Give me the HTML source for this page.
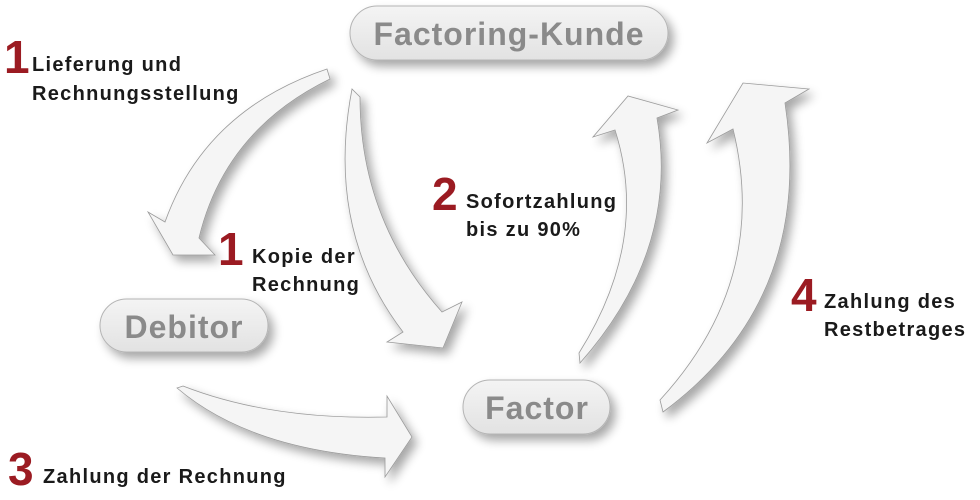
<!DOCTYPE html>
<html><head><meta charset="utf-8"><style>
html,body{margin:0;padding:0;background:#fff;width:980px;height:500px;overflow:hidden}
</style></head><body>
<svg width="980" height="500" viewBox="0 0 980 500" xmlns="http://www.w3.org/2000/svg" font-family="Liberation Sans, Arial, sans-serif" font-weight="bold">
<defs>
<filter id="sh" x="-20%" y="-20%" width="150%" height="150%">
<feGaussianBlur in="SourceAlpha" stdDeviation="5"/>
<feOffset dx="5" dy="6" result="b"/>
<feComponentTransfer><feFuncA type="linear" slope="0.35"/></feComponentTransfer>
<feMerge><feMergeNode/><feMergeNode in="SourceGraphic"/></feMerge>
</filter>
<linearGradient id="pg" x1="0" y1="0" x2="0" y2="1">
<stop offset="0" stop-color="#f4f4f4"/><stop offset="1" stop-color="#e2e2e2"/>
</linearGradient>
</defs>
<g fill="#f5f5f5" stroke="#9a9a9a" stroke-width="0.8" filter="url(#sh)">
<path d="M327,69 Q205,110 165,222 L148,212 L173,255 L215,255 L199,238 Q225,130 330,79 Z"/>
<path d="M352,89 Q325,230 403,332 L387,342 L443,348 L462,302 L442,312 Q360,220 360,97 Z"/>
<path d="M579,353 Q650,240 615,130 L593,137 L628,96 L678,110 L657,118 Q680,250 580,363 Z"/>
<path d="M660,400 Q770,280 733,129 L707,143 L743,83 L809,89 L785,103 Q815,300 663,412 Z"/>
<path d="M177,388 Q250,450 385,458 L385,477 L412,437 L387,396 L387,417 Q270,420 183,386 Z"/>
</g>
<g filter="url(#sh)" fill="url(#pg)" stroke="#b5b5b5" stroke-width="1">
<rect x="350" y="6" width="318" height="54" rx="27"/>
<rect x="100" y="299" width="168" height="53" rx="26.5"/>
<rect x="463" y="380" width="147" height="54" rx="27"/>
</g>
<g fill="#8a8a8a" font-size="32" text-anchor="middle" letter-spacing="1">
<text x="509" y="45">Factoring-Kunde</text>
<text x="184" y="338">Debitor</text>
<text x="537" y="419">Factor</text>
</g>
<g fill="#9b1b22" font-size="46">
<text x="4" y="73">1</text>
<text x="218" y="265">1</text>
<text x="432" y="210">2</text>
<text x="791" y="311">4</text>
<text x="8" y="485">3</text>
</g>
<g fill="#1a1a1a" font-size="20" letter-spacing="1.3">
<text x="32" y="71">Lieferung und</text>
<text x="32" y="100">Rechnungsstellung</text>
<text x="252" y="263">Kopie der</text>
<text x="252" y="291">Rechnung</text>
<text x="466" y="208">Sofortzahlung</text>
<text x="466" y="236">bis zu 90%</text>
<text x="824" y="308">Zahlung des</text>
<text x="824" y="336">Restbetrages</text>
<text x="43" y="483">Zahlung der Rechnung</text>
</g>
</svg>
</body></html>
